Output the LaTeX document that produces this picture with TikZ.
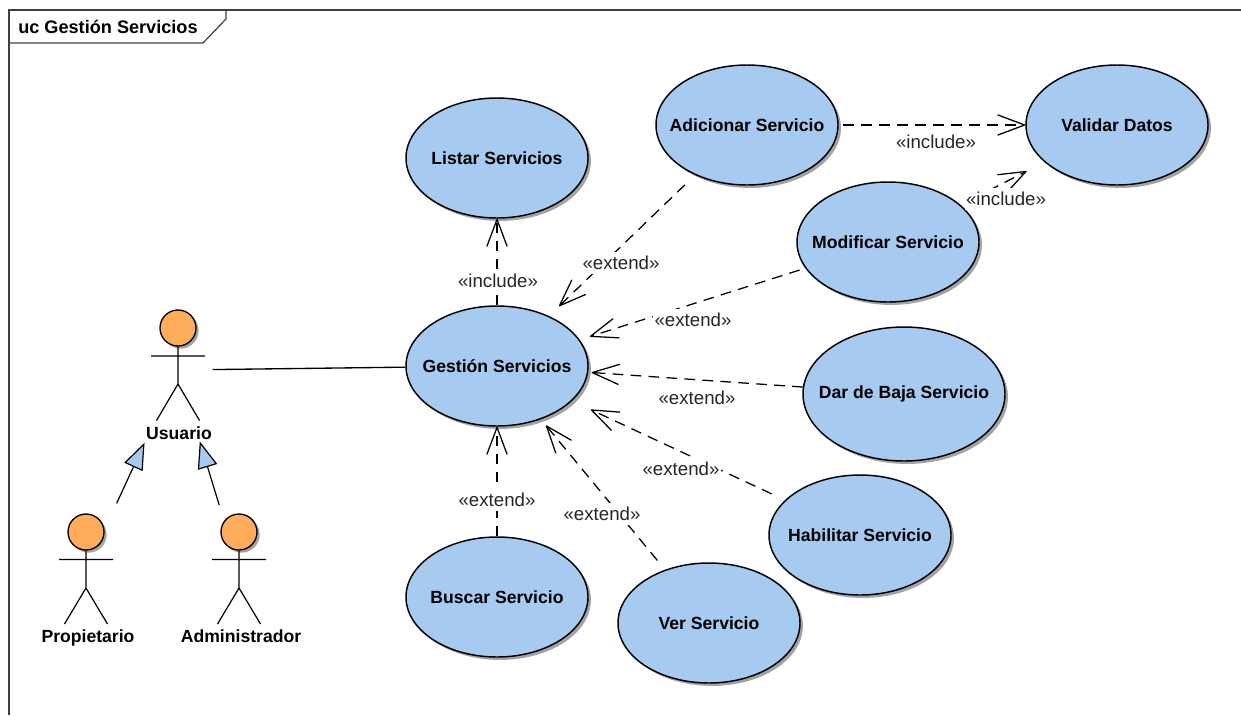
\documentclass[tikz,border=0pt]{standalone}
\usepackage{fontspec}
\setmainfont{Liberation Sans}
\usepackage{tikz}
\usetikzlibrary{shapes.geometric,shadows,arrows.meta}
\definecolor{ucfill}{HTML}{A6CAF0}
\definecolor{actorfill}{HTML}{FFAD5B}
\definecolor{framecol}{HTML}{404040}
\newcommand{\uctext}[1]{\makebox[0pt]{#1}}
\tikzset{
	usecase/.style={ellipse,draw=black,fill=ucfill,line width=1.1pt,minimum width=136.5pt,minimum height=90pt,inner sep=0pt,font=\fontsize{13.2}{15}\selectfont\bfseries,drop shadow={shadow xshift=2.2pt,shadow yshift=-2.2pt,fill=black!45,opacity=.8}},
	actorhead/.style={circle,draw=black,fill=actorfill,line width=1pt,minimum size=27pt,inner sep=0pt,drop shadow={shadow xshift=2pt,shadow yshift=-2pt,fill=black!45,opacity=.8}},
	actorname/.style={font=\fontsize{13.2}{15}\selectfont\bfseries,inner sep=0pt,text height=9.5pt,text depth=2.8pt},
	stereo/.style={font=\fontsize{14}{16}\selectfont,text=black!85,fill=white,inner xsep=1pt,inner ysep=3pt},
	dep/.style={line width=.95pt,dash pattern=on 8pt off 5.5pt,-{Straight Barb[length=20pt,width=15pt,line width=.95pt,round]}},
	gen/.style={line width=.9pt,-{Triangle[length=20pt,width=15pt,fill=ucfill,line width=.9pt]}}
}
\begin{document}
\begin{tikzpicture}[x=.75pt,y=-.75pt]
	\useasboundingbox (0,0) rectangle (1241,715);
	\def\armx{27}
	\def\legx{21.5}
	% marco
	\draw[framecol,line width=.9pt] (9,715)--(9,10)--(1241,10);
	\draw[framecol,line width=.9pt] (9,43)--(203,43)--(226,19)--(226,10);
	\node[anchor=west,inner sep=0pt,font=\fontsize{13.6}{15}\selectfont\bfseries] (titulo) at (18,27) {uc Gestión Servicios};
	% casos de uso
	\node[usecase] (gestion) at (497,366) {\uctext{Gestión Servicios}};
	\node[usecase] (listar) at (497,158) {\uctext{Listar Servicios}};
	\node[usecase] (adicionar) at (747,125) {\uctext{Adicionar Servicio}};
	\node[usecase] (validar) at (1117,125) {\uctext{Validar Datos}};
	\node[usecase] (modificar) at (888,242) {\uctext{Modificar Servicio}};
	\node[usecase,minimum width=151.5pt,minimum height=100.5pt] (baja) at (904,394) {\uctext{Dar de Baja Servicio}};
	\node[usecase] (habilitar) at (860,535) {\uctext{Habilitar Servicio}};
	\node[usecase] (ver) at (709,623) {\uctext{Ver Servicio}};
	\node[usecase] (buscar) at (497,597) {\uctext{Buscar Servicio}};
	% actores
	\coordinate (usuario) at (178,370);
	\coordinate (propietario) at (86,570);
	\coordinate (administrador) at (239,570);
	\node[actorhead] (cabezaU) at (178,328) {};
	\node[actorhead] (cabezaP) at (86,532) {};
	\node[actorhead] (cabezaA) at (239,532) {};
	\draw[line width=.9pt] (cabezaU.south)--(178,384) (178-\armx,356)--(178+\armx,356) (178-\legx,420.5)--(178,384)--(178+\legx,420.5);
	\draw[line width=.9pt] (cabezaP.south)--(86,588) (86-\armx,559.5)--(86+\armx,559.5) (86-\legx,624)--(86,588)--(86+\legx,624);
	\draw[line width=.9pt] (cabezaA.south)--(239,588) (239-\armx,559.5)--(239+\armx,559.5) (239-\legx,624)--(239,588)--(239+\legx,624);
	\node[actorname] (nomU) at (179,435) {Usuario};
	\node[actorname] (nomP) at (88,638) {Propietario};
	\node[actorname] (nomA) at (241,638) {Administrador};
	% conectores
	\draw[line width=1pt,shorten <=26pt] (usuario)--(gestion);
	\draw[gen,shorten <=55pt,shorten >=60pt] (propietario)--(usuario);
	\draw[gen,shorten <=51pt,shorten >=56pt] (administrador)--(usuario);
	\draw[dep] (gestion)--(listar);
	\draw[dep] (buscar)--(gestion);
	\draw[dep,shorten <=10.5pt,shorten >=10.5pt] (adicionar)--(gestion);
	\draw[dep,shorten <=4.5pt,shorten >=8pt] (modificar)--(gestion);
	\draw[dep,shorten >=2.5pt] (baja)--(gestion);
	\draw[dep,shorten <=11pt,shorten >=15.5pt] (habilitar)--(gestion);
	\draw[dep,shorten <=9pt,shorten >=6pt] (ver)--(gestion);
	\draw[dep,shorten <=3.5pt] (adicionar)--(validar);
	\draw[dep,shorten <=10pt,shorten >=15pt] (modificar)--(validar);
	% etiquetas
	\node[stereo] (incL) at (498,281) {«include»};
	\node[stereo] (extB) at (497,500) {«extend»};
	\node[stereo] (extA) at (621,263) {«extend»};
	\node[stereo] (extM) at (693,320) {«extend»};
	\node[stereo] (extD) at (697,398) {«extend»};
	\node[stereo] (extH) at (681,469) {«extend»};
	\node[stereo] (extV) at (602,514) {«extend»};
	\node[stereo] (incA) at (936,142) {«include»};
	\node[stereo] (incM) at (1006,199) {«include»};
\end{tikzpicture}
\end{document}
